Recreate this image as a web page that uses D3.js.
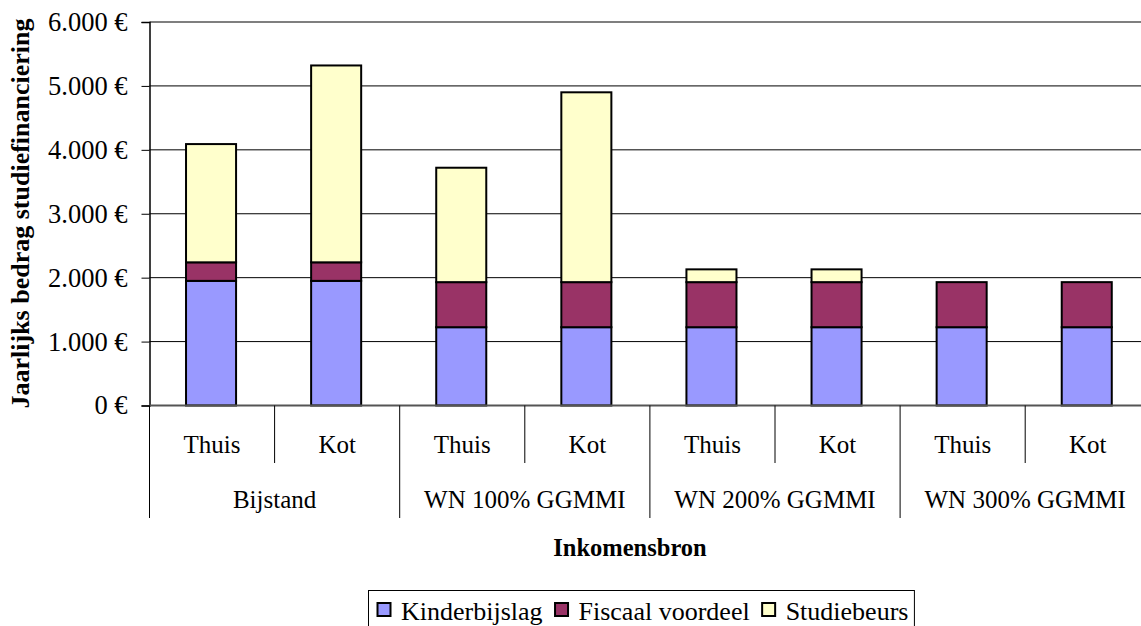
<!DOCTYPE html>
<html>
<head>
<meta charset="utf-8">
<script src="https://cdn.jsdelivr.net/npm/d3@7"></script>
<style>
  body { margin: 0; background: #fff; }
  svg { display: block; font-family: "Liberation Serif", "Times New Roman", serif; }
</style>
</head>
<body>
<div class="chart"></div>
<script>
// categories
var groups = ["Bijstand", "WN 100% GGMMI", "WN 200% GGMMI", "WN 300% GGMMI"];
var living = ["Thuis", "Kot"];
// series values (euro per year), one per bar, in order of the bars
var kinderbijslag = [1950, 1950, 1225, 1225, 1225, 1225, 1225, 1225];
var fiscaal = [290, 290, 705, 705, 705, 705, 705, 705];
var studiebeurs = [1850, 3080, 1790, 2970, 200, 200, 0, 0];
var seriesNames = ["Kinderbijslag", "Fiscaal voordeel", "Studiebeurs"];
var seriesColors = ["#9999ff", "#993366", "#ffffcc"];
var yTicks = [0, 1000, 2000, 3000, 4000, 5000, 6000];

var W = 1141, H = 626;
var plot = { left: 149.5, top: 22, bottom: 405.5, band: 125.1 };

// build rows for the stack
var bars = [];
groups.forEach(function (g, gi) {
  living.forEach(function (l, li) {
    var i = gi * living.length + li;
    bars.push({
      key: g + "|" + l, group: g, living: l,
      "Kinderbijslag": kinderbijslag[i],
      "Fiscaal voordeel": fiscaal[i],
      "Studiebeurs": studiebeurs[i]
    });
  });
});

var x = d3.scaleBand()
  .domain(bars.map(d => d.key))
  .range([plot.left, plot.left + plot.band * bars.length])
  .padding(0);

var y = d3.scaleLinear().domain([0, 6000]).range([plot.bottom, plot.top]);

var color = d3.scaleOrdinal().domain(seriesNames).range(seriesColors);

var stack = d3.stack().keys(seriesNames)(bars);

var svg = d3.select(".chart").append("svg")
  .attr("width", W).attr("height", H);

// gridlines
svg.append("g")
  .selectAll("line")
  .data(yTicks.slice(1, -1))
  .enter().append("line")
  .attr("x1", plot.left).attr("x2", W)
  .attr("y1", d => y(d)).attr("y2", d => y(d))
  .attr("stroke", "#000").attr("stroke-width", 1);

// top border of plot area
svg.append("line")
  .attr("x1", plot.left).attr("x2", W)
  .attr("y1", y(6000)).attr("y2", y(6000))
  .attr("stroke", "#7f7f7f").attr("stroke-width", 2);

// y axis
var yAxis = d3.axisLeft(y)
  .tickValues(yTicks)
  .tickSize(8)
  .tickPadding(14)
  .tickFormat(d => d3.format(",")(d).replace(/,/g, ".") + " \u20ac");

var ya = svg.append("g")
  .attr("transform", "translate(" + plot.left + ",0)")
  .call(yAxis);
ya.attr("font-family", null).attr("font-size", null);
ya.select(".domain").attr("stroke", "#000").attr("stroke-width", 1.5);
ya.selectAll(".tick line").attr("stroke", "#000");
ya.selectAll(".tick text")
  .style("font-size", "26.5px")
  .style("font-family", "'Liberation Serif', serif")
  .attr("fill", "#000");

// bars
var barW = x.bandwidth() * 0.4;
svg.append("g")
  .selectAll("g")
  .data(stack)
  .enter().append("g")
  .attr("fill", d => color(d.key))
  .selectAll("rect")
  .data(d => d.filter(s => s[1] - s[0] > 0))
  .enter().append("rect")
  .attr("x", d => x(d.data.key) + (x.bandwidth() - barW) / 2 - 1)
  .attr("width", barW)
  .attr("y", d => y(d[1]))
  .attr("height", d => y(d[0]) - y(d[1]))
  .attr("stroke", "#000")
  .attr("stroke-width", 2);

// x axis line
svg.append("line")
  .attr("x1", plot.left).attr("x2", W)
  .attr("y1", plot.bottom).attr("y2", plot.bottom)
  .attr("stroke", "#555").attr("stroke-width", 2);

// category separators (inner and group)
var sep = svg.append("g").attr("stroke", "#000").attr("stroke-width", 1);
bars.forEach(function (d, i) {
  var long = i % living.length === 0;
  sep.append("line")
    .attr("x1", x(d.key)).attr("x2", x(d.key))
    .attr("y1", plot.bottom).attr("y2", long ? 518 : 463);
});

// category labels
svg.append("g")
  .selectAll("text")
  .data(bars)
  .enter().append("text")
  .attr("x", d => x(d.key) + x.bandwidth() / 2)
  .attr("y", 453)
  .attr("text-anchor", "middle")
  .style("font-size", "25px")
  .text(d => d.living);

svg.append("g")
  .selectAll("text")
  .data(groups)
  .enter().append("text")
  .attr("x", (d, i) => plot.left + plot.band * living.length * (i + 0.5))
  .attr("y", 508)
  .attr("text-anchor", "middle")
  .style("font-size", "25px")
  .text(d => d);

// axis titles
svg.append("text")
  .attr("x", 630).attr("y", 556)
  .attr("text-anchor", "middle")
  .style("font-size", "24.5px").attr("font-weight", "bold")
  .text("Inkomensbron");

svg.append("text")
  .attr("transform", "translate(29,213.5) rotate(-90)")
  .attr("text-anchor", "middle")
  .style("font-size", "26px").attr("font-weight", "bold")
  .text("Jaarlijks bedrag studiefinanciering");

// legend
var lg = svg.append("g");
var box = lg.append("rect")
  .attr("x", 368.5).attr("y", 590.5)
  .attr("height", 50)
  .attr("fill", "#fff").attr("stroke", "#000").attr("stroke-width", 1);

var lx = 377.5;
seriesNames.forEach(function (s) {
  lg.append("rect")
    .attr("x", lx).attr("y", 603)
    .attr("width", 13).attr("height", 13)
    .attr("fill", color(s)).attr("stroke", "#000").attr("stroke-width", 2);
  var t = lg.append("text")
    .attr("x", lx + 23.5).attr("y", 620)
    .style("font-size", "26px")
    .text(s);
  lx += 23.5 + t.node().getComputedTextLength() + 12.5;
});
box.attr("width", lx - 12.5 + 6 - 368.5);
</script>
</body>
</html>
